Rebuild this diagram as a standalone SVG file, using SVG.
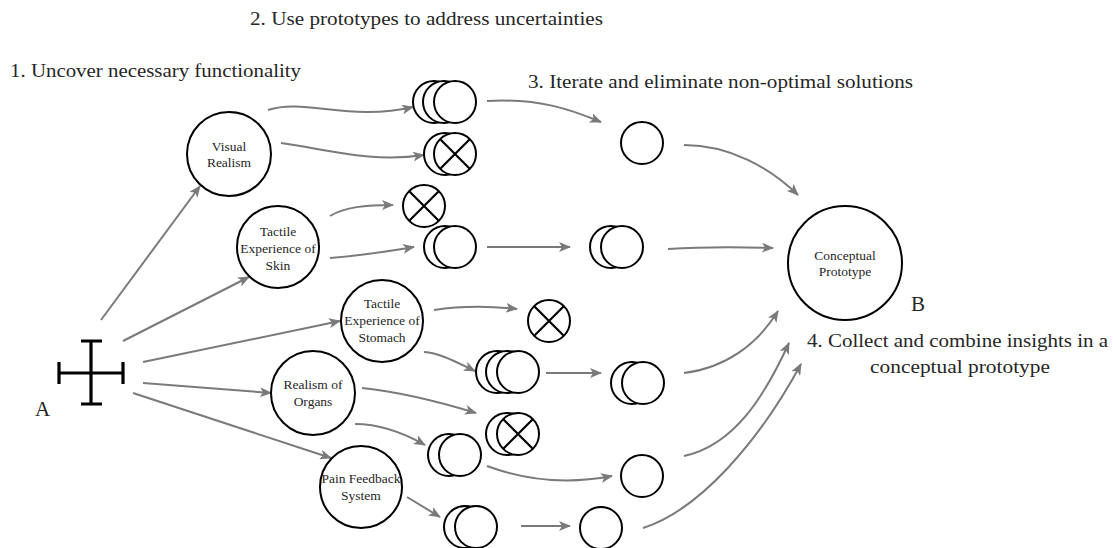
<svg xmlns="http://www.w3.org/2000/svg" width="1113" height="548" viewBox="0 0 1113 548" font-family="'Liberation Serif', 'Times New Roman', serif">
<style>
text{font-family:'Liberation Serif','Times New Roman',serif;fill:#262626}
.h{font-size:18px}
.n{font-size:13.5px;text-anchor:middle}
.c{fill:#fff;stroke:#000;stroke-width:2}
.x{stroke:#000;stroke-width:2.2}
.e{fill:none;stroke:#7a7a7a;stroke-width:2;marker-end:url(#ah)}
.cr{stroke:#000;stroke-width:3.2;fill:none}
</style>
<defs>
<marker id="ah" viewBox="0 0 12 10" refX="11" refY="5" markerWidth="12" markerHeight="10" markerUnits="userSpaceOnUse" orient="auto"><path d="M0,0 L12,5 L0,10 L3,5 z" fill="#7a7a7a"/></marker>
</defs>
<rect width="1113" height="548" fill="#fff"/>

<g id="labels">
<text class="h" x="250" y="25" textLength="353" lengthAdjust="spacingAndGlyphs">2. Use prototypes to address uncertainties</text>
<text class="h" x="10" y="77" textLength="291" lengthAdjust="spacingAndGlyphs">1. Uncover necessary functionality</text>
<text class="h" x="528" y="88" textLength="385" lengthAdjust="spacingAndGlyphs">3. Iterate and eliminate non-optimal solutions</text>
<text class="h" x="807" y="347" textLength="301" lengthAdjust="spacingAndGlyphs">4. Collect and combine insights in a</text>
<text class="h" x="870" y="373" textLength="180" lengthAdjust="spacingAndGlyphs">conceptual prototype</text>
<text x="911" y="311" font-size="21">B</text>
<text x="35" y="416" font-size="21">A</text>
</g>

<g id="connectors">
<path class="e" d="M101,320 L200,186"/>
<path class="e" d="M123,341 L249,277"/>
<path class="e" d="M143,362 L340,321"/>
<path class="e" d="M143,383 L271,393"/>
<path class="e" d="M133,393 L331,458"/>
<path class="e" d="M268,110 C305,98 350,122 413,107"/>
<path class="e" d="M281,143 C330,150 372,163 424,155"/>
<path class="e" d="M330,216 C345,207 365,205 393,205"/>
<path class="e" d="M330,258 C355,256 385,252 414,247"/>
<path class="e" d="M487,101 C540,98 572,110 601,122"/>
<path class="e" d="M487,247 L570,247"/>
<path class="e" d="M668,249 C700,247 740,247 773,248"/>
<path class="e" d="M684,145 C730,145 770,168 798,195"/>
<path class="e" d="M434,310 C460,306 490,306 517,309"/>
<path class="e" d="M424,352 C440,353 456,362 475,371"/>
<path class="e" d="M546,373 L601,373"/>
<path class="e" d="M684,373 C725,368 757,345 778,311"/>
<path class="e" d="M362,388 C400,392 440,402 476,413"/>
<path class="e" d="M355,424 C380,424 402,432 425,445"/>
<path class="e" d="M487,466 C530,482 570,484 612,476"/>
<path class="e" d="M684,456 C735,445 765,395 789,343"/>
<path class="e" d="M407,497 L440,517"/>
<path class="e" d="M521,526 L570,526"/>
<path class="e" d="M643,528 C700,510 760,440 801,364"/>
</g>

<g id="nodeA">
<path class="cr" d="M91,341 V404 M59,373 H123 M81,341 H102 M81,404 H102 M59,362 V384 M123,362 V384"/>
</g>

<g id="visual-realism">
<circle class="c" cx="229" cy="154" r="42"/>
<text class="n" x="229" y="151">Visual</text>
<text class="n" x="229" y="167">Realism</text>
</g>
<g id="tactile-skin">
<circle class="c" cx="278" cy="247" r="41"/>
<text class="n" x="278" y="236">Tactile</text>
<text class="n" x="278" y="253">Experience of</text>
<text class="n" x="278" y="270">Skin</text>
</g>
<g id="tactile-stomach">
<circle class="c" cx="382" cy="321" r="41"/>
<text class="n" x="382" y="308">Tactile</text>
<text class="n" x="382" y="325">Experience of</text>
<text class="n" x="382" y="342">Stomach</text>
</g>
<g id="realism-organs">
<circle class="c" cx="313" cy="393" r="42"/>
<text class="n" x="313" y="389">Realism of</text>
<text class="n" x="313" y="406">Organs</text>
</g>
<g id="pain-feedback">
<circle class="c" cx="361" cy="487" r="41"/>
<text class="n" x="361" y="483">Pain Feedback</text>
<text class="n" x="361" y="500">System</text>
</g>
<g id="conceptual-prototype">
<circle class="c" cx="845" cy="263" r="57"/>
<text class="n" x="845" y="260" font-size="14">Conceptual</text>
<text class="n" x="845" y="276" font-size="14">Prototype</text>
</g>

<g id="p1">
<circle class="c" cx="434" cy="102" r="21"/>
<circle class="c" cx="444" cy="102" r="21"/>
<circle class="c" cx="455" cy="102" r="21"/>
</g>
<g id="p2">
<circle class="c" cx="445" cy="154" r="21"/>
<circle class="c" cx="455" cy="154" r="21"/>
<path class="x" d="M440,139 L470,169 M470,139 L440,169"/>
</g>
<g id="p3">
<circle class="c" cx="424" cy="206" r="21"/>
<path class="x" d="M409,191 L439,221 M439,191 L409,221"/>
</g>
<g id="p4">
<circle class="c" cx="445" cy="247" r="21"/>
<circle class="c" cx="455" cy="247" r="21"/>
</g>
<g id="p5">
<circle class="c" cx="549" cy="321" r="21"/>
<path class="x" d="M534,306 L564,336 M564,306 L534,336"/>
</g>
<g id="p6">
<circle class="c" cx="497" cy="372" r="21"/>
<circle class="c" cx="507" cy="372" r="21"/>
<circle class="c" cx="518" cy="372" r="21"/>
</g>
<g id="p7">
<circle class="c" cx="507" cy="434" r="21"/>
<circle class="c" cx="518" cy="434" r="21"/>
<path class="x" d="M503,419 L533,449 M533,419 L503,449"/>
</g>
<g id="p8">
<circle class="c" cx="449" cy="455" r="21"/>
<circle class="c" cx="460" cy="455" r="21"/>
</g>
<g id="p9">
<circle class="c" cx="465" cy="527" r="21"/>
<circle class="c" cx="476" cy="527" r="21"/>
</g>
<g id="q1">
<circle class="c" cx="642" cy="143" r="21"/>
</g>
<g id="q2">
<circle class="c" cx="611" cy="247" r="21"/>
<circle class="c" cx="622" cy="247" r="21"/>
</g>
<g id="q3">
<circle class="c" cx="632" cy="383" r="21"/>
<circle class="c" cx="643" cy="383" r="21"/>
</g>
<g id="q4">
<circle class="c" cx="642" cy="476" r="21"/>
</g>
<g id="q5">
<circle class="c" cx="601" cy="528" r="21"/>
</g>
</svg>
